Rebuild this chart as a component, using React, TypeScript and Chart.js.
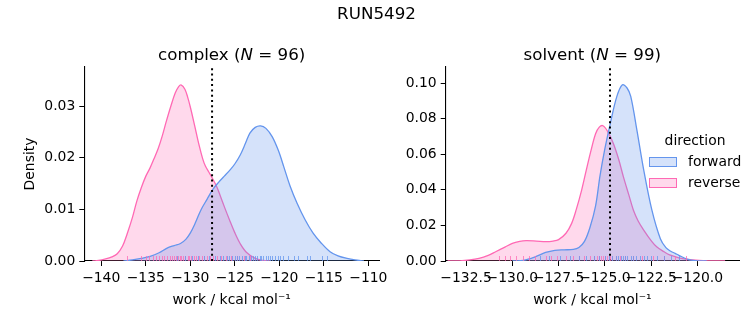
import React, { useEffect, useRef } from "react";
import { Chart, registerables } from "chart.js";

Chart.register(...registerables);

// ---------- DATA ----------
// complex panel, KDE curves
const complexForwardX = [-137.5, -136.5, -135.5, -134.5, -133.5, -132.6, -131.8, -131.1, -130.5, -130.0, -129.4, -128.8, -128.1, -127.5, -126.8, -126.2, -125.5, -125.0, -124.4, -123.8, -123.3, -122.7, -122.1, -121.5, -120.8, -120.1, -119.5, -118.8, -118.0, -117.1, -116.2, -115.3, -114.3, -113.4, -112.4, -111.5, -110.5];
const complexForwardY = [0, 0.0002, 0.0005, 0.0009, 0.0016, 0.0025, 0.003, 0.0034, 0.0042, 0.0054, 0.0075, 0.0099, 0.012, 0.0138, 0.0153, 0.0164, 0.0177, 0.0188, 0.0205, 0.0228, 0.0248, 0.0259, 0.0262, 0.0257, 0.0241, 0.0214, 0.0183, 0.0146, 0.0112, 0.008, 0.0054, 0.0035, 0.0018, 0.001, 0.0005, 0.0002, 0];
const complexReverseX = [-141, -140.3, -139.5, -138.8, -138.2, -137.6, -137.1, -136.5, -136.0, -135.5, -135.0, -134.5, -134.1, -133.6, -133.15, -132.7, -132.2, -131.7, -131.3, -131.0, -130.6, -130.3, -130.0, -129.5, -129.0, -128.6, -128.3, -127.9, -127.5, -127.0, -126.6, -126.1, -125.6, -125.0, -124.4, -123.7, -122.7, -121.8, -121];
const complexReverseY = [0, 0.0001, 0.0004, 0.0008, 0.0014, 0.0029, 0.0052, 0.0084, 0.0116, 0.0142, 0.0164, 0.0181, 0.0197, 0.0218, 0.0242, 0.027, 0.0299, 0.0325, 0.0338, 0.0341, 0.0333, 0.0318, 0.0299, 0.0262, 0.0224, 0.0198, 0.0184, 0.0172, 0.016, 0.0143, 0.0125, 0.0102, 0.008, 0.0055, 0.0034, 0.0017, 0.0005, 0.0001, 0];

// solvent panel, KDE curves
const solventForwardX = [-130, -129.4, -128.8, -128.2, -127.7, -127.2, -126.7, -126.4, -126.1, -125.8, -125.5, -125.26, -125.0, -124.7, -124.35, -124.05, -123.8, -123.6, -123.27, -122.9, -122.46, -122.0, -121.7, -121.46, -121.2, -121.0, -120.57, -120.0, -119.5];
const solventForwardY = [0, 0.0004, 0.0022, 0.0048, 0.006, 0.0063, 0.0065, 0.0076, 0.011, 0.019, 0.031, 0.048, 0.063, 0.0775, 0.0925, 0.099, 0.0972, 0.0925, 0.0737, 0.0512, 0.0287, 0.0125, 0.0075, 0.0056, 0.0043, 0.0032, 0.0011, 0.0001, 0];
const solventReverseX = [-133.5, -132.86, -132.3, -131.8, -131.3, -130.9, -130.4, -130.0, -129.6, -129.26, -128.7, -128.2, -127.8, -127.5, -127.1, -126.8, -126.55, -126.25, -126.0, -125.75, -125.5, -125.3, -125.1, -124.85, -124.54, -124.25, -124.0, -123.7, -123.46, -123.2, -122.9, -122.5, -122.2, -121.8, -121.5, -121.0, -120.6, -119.9, -119.3, -118.5];
const solventReverseY = [0, 0.0001, 0.0006, 0.0015, 0.0032, 0.0052, 0.0078, 0.0099, 0.011, 0.0114, 0.0112, 0.0109, 0.0112, 0.012, 0.0156, 0.021, 0.0287, 0.04, 0.0512, 0.062, 0.0715, 0.0752, 0.076, 0.0728, 0.066, 0.057, 0.0474, 0.037, 0.0287, 0.0225, 0.0174, 0.0115, 0.008, 0.0052, 0.0034, 0.0018, 0.001, 0.0003, 0.0001, 0];

// rug (individual work values)
const complexRugForward = [-131.5, -130.6, -129.8, -129.1, -128.4, -127.9, -127.2, -126.7, -126.3, -125.9, -125.6, -125.3, -125.0, -124.7, -124.5, -124.2, -123.9, -123.7, -123.4, -123.2, -122.9, -122.7, -122.5, -122.2, -122.0, -121.8, -121.5, -121.3, -121.0, -120.8, -120.5, -120.2, -119.9, -119.6, -119.0, -118.4, -117.9, -116.9, -116.5, -115.2, -114.6];
const complexRugReverse = [-137.1, -135.5, -135.0, -134.6, -134.2, -133.9, -133.5, -133.2, -132.9, -132.6, -132.3, -132.1, -131.8, -131.6, -131.4, -131.2, -131.0, -130.8, -130.6, -130.3, -130.1, -129.9, -129.6, -129.3, -129.0, -128.7, -128.4, -128.1, -127.8, -127.4, -127.0, -126.5, -126.0, -125.4, -124.8, -124.0, -123.3];
const solventRugForward = [-128.5, -128.0, -127.4, -126.9, -126.4, -126.0, -125.6, -125.3, -125.0, -124.8, -124.6, -124.4, -124.3, -124.1, -124.0, -123.9, -123.8, -123.6, -123.5, -123.3, -123.1, -122.9, -122.7, -122.5, -122.2, -121.8, -121.4, -121.0];
const solventRugReverse = [-130.7, -130.4, -130.1, -129.8, -129.4, -129.1, -128.8, -128.2, -127.9, -127.6, -127.1, -126.7, -126.4, -126.1, -125.8, -125.6, -125.4, -125.3, -125.2, -125.1, -125.0, -124.9, -124.8, -124.7, -124.6, -124.4, -124.2, -123.9, -123.5, -123.0, -122.4, -121.8, -121.2, -120.6];

// reference lines (dotted)
const complexMarker = -127.55;
const solventMarker = -124.72;

// axis ticks and limits
const complexXTicks = [-140, -135, -130, -125, -120, -115, -110];
const complexYTicks = [0, 0.01, 0.02, 0.03];
const solventXTicks = [-132.5, -130, -127.5, -125, -122.5, -120];
const solventYTicks = [0, 0.02, 0.04, 0.06, 0.08, 0.1];
const complexXRange = [-141.9, -108.8];
const complexYMax = 0.0376;
const solventXRange = [-133.6, -117.75];
const solventYMax = 0.109;

const seriesNames = ["forward", "reverse"];
const suptitle = "RUN5492";
const xLabel = "work / kcal mol\u207B\u00B9";

// ---------- STYLE ----------
const BLUE = "rgb(100,149,237)";
const BLUE_FILL = "rgba(100,149,237,0.27)";
const BLUE_RUG = "rgba(100,149,237,0.75)";
const PINK = "rgb(255,105,180)";
const PINK_FILL = "rgba(255,105,180,0.25)";
const PINK_RUG = "rgba(255,105,180,0.75)";
const FONT = "'DejaVu Sans', sans-serif";

const minus = (s: string) => s.replace("-", "\u2212");

const rugPlugin = {
  id: "rug",
  afterDatasetsDraw(chart: any, _args: any, opts: any) {
    const { ctx, chartArea, scales } = chart;
    const h = 5;
    (opts.rugs || []).forEach((r: any) => {
      ctx.save();
      ctx.strokeStyle = r.color;
      ctx.lineWidth = 1;
      r.values.forEach((v: number) => {
        const x = Math.round(scales.x.getPixelForValue(v)) + 0.5;
        ctx.beginPath();
        ctx.moveTo(x, chartArea.bottom);
        ctx.lineTo(x, chartArea.bottom - h);
        ctx.stroke();
      });
      ctx.restore();
    });
  },
};

function zip(xs: number[], ys: number[]) {
  return xs.map((x, i) => ({ x, y: ys[i] }));
}

type Panel = {
  fx: number[]; fy: number[]; rx: number[]; ry: number[];
  rugF: number[]; rugR: number[]; marker: number;
  xTicks: number[]; yTicks: number[]; xRange: number[]; yMax: number;
  xDigits: number; padLeft: number; padRight: number; yTitle: string;
};

function makeChart(canvas: HTMLCanvasElement, p: Panel) {
  return new Chart(canvas, {
    type: "line",
    data: {
      datasets: [
        {
          data: [{ x: p.marker, y: 0 }, { x: p.marker, y: p.yMax }],
          borderColor: "#000",
          borderWidth: 2,
          borderDash: [2, 3.3],
          pointRadius: 0,
          fill: false,
          tension: 0,
        },
        {
          data: zip(p.fx, p.fy),
          borderColor: BLUE,
          backgroundColor: BLUE_FILL,
          borderWidth: 1.3,
          pointRadius: 0,
          fill: "origin",
          tension: 0.35,
        },
        {
          data: zip(p.rx, p.ry),
          borderColor: PINK,
          backgroundColor: PINK_FILL,
          borderWidth: 1.3,
          pointRadius: 0,
          fill: "origin",
          tension: 0.35,
        },
      ] as any,
    },
    options: {
      responsive: false,
      animation: false,
      devicePixelRatio: 1,
      events: [],
      layout: { padding: { left: p.padLeft, right: p.padRight, top: 67, bottom: 16 } },
      plugins: {
        legend: { display: false },
        tooltip: { enabled: false },
        title: { display: false },
        rug: {
          rugs: [
            { values: p.rugR, color: PINK_RUG },
            { values: p.rugF, color: BLUE_RUG },
          ],
        },
      } as any,
      scales: {
        x: {
          type: "linear",
          min: p.xRange[0],
          max: p.xRange[1],
          afterBuildTicks: (s: any) => { s.ticks = p.xTicks.map((v) => ({ value: v })); },
          afterFit: (s: any) => { s.height = 48; },
          grid: { display: true, drawOnChartArea: false, drawTicks: true, tickLength: 5, color: "#000", lineWidth: 1 },
          border: { display: true, color: "#000", width: 1.1 },
          ticks: {
            autoSkip: false, maxRotation: 0, minRotation: 0, padding: 4, color: "#000",
            font: { family: FONT, size: 13.9 },
            callback: (v: any) => minus(Number(v).toFixed(p.xDigits)),
          },
          title: { display: true, text: xLabel, color: "#000", padding: 0, font: { family: FONT, size: 13.9 } },
        },
        y: {
          type: "linear",
          min: 0,
          max: p.yMax,
          afterBuildTicks: (s: any) => { s.ticks = p.yTicks.map((v) => ({ value: v })); },
          afterFit: (s: any) => { s.width = 62; },
          grid: { display: true, drawOnChartArea: false, drawTicks: true, tickLength: 5, color: "#000", lineWidth: 1 },
          border: { display: true, color: "#000", width: 1.1 },
          ticks: {
            padding: 4, color: "#000",
            font: { family: FONT, size: 13.9 },
            callback: (v: any) => Number(v).toFixed(2),
          },
          title: { display: p.yTitle !== "", text: p.yTitle, color: "#000", padding: 0, font: { family: FONT, size: 13.9 } },
        },
      },
    } as any,
    plugins: [rugPlugin],
  });
}

const textBase: React.CSSProperties = {
  position: "absolute",
  fontFamily: FONT,
  color: "#000",
  whiteSpace: "nowrap",
  lineHeight: 1,
};

export default function App() {
  const c1 = useRef<HTMLCanvasElement>(null);
  const c2 = useRef<HTMLCanvasElement>(null);

  useEffect(() => {
    const a = makeChart(c1.current!, {
      fx: complexForwardX, fy: complexForwardY, rx: complexReverseX, ry: complexReverseY,
      rugF: complexRugForward, rugR: complexRugReverse, marker: complexMarker,
      xTicks: complexXTicks, yTicks: complexYTicks, xRange: complexXRange, yMax: complexYMax,
      xDigits: 0, padLeft: 22.3, padRight: 374, yTitle: "Density",
    });
    const b = makeChart(c2.current!, {
      fx: solventForwardX, fy: solventForwardY, rx: solventReverseX, ry: solventReverseY,
      rugF: solventRugForward, rugR: solventRugReverse, marker: solventMarker,
      xTicks: solventXTicks, yTicks: solventYTicks, xRange: solventXRange, yMax: solventYMax,
      xDigits: 1, padLeft: 383.7, padRight: 14, yTitle: "",
    });
    return () => { a.destroy(); b.destroy(); };
  }, []);

  const center = (x: number, y: number): React.CSSProperties => ({
    left: x, top: y, transform: "translate(-50%, -50%)",
  });

  return (
    <div style={{ position: "absolute", left: 0, top: 0, width: 753, height: 325, background: "#fff", overflow: "hidden" }}>
      <canvas ref={c1} width={753} height={325} style={{ position: "absolute", left: 0, top: 0 }} />
      <canvas ref={c2} width={753} height={325} style={{ position: "absolute", left: 0, top: 0 }} />
      <div style={{ ...textBase, ...center(376.5, 13), fontSize: 16.7 }}>{suptitle}</div>
      <div style={{ ...textBase, ...center(231.7, 54), fontSize: 16.7 }}>
        complex (<i>N</i> = 96)
      </div>
      <div style={{ ...textBase, ...center(592.3, 54), fontSize: 16.7 }}>
        solvent (<i>N</i> = 99)
      </div>
      <div style={{ ...textBase, ...center(695, 141), fontSize: 13.9 }}>direction</div>
      <div style={{ position: "absolute", left: 649.3, top: 157.3, width: 27.4, height: 10, boxSizing: "border-box", border: `1.3px solid ${BLUE}`, background: BLUE_FILL }} />
      <div style={{ position: "absolute", left: 649.3, top: 178.3, width: 27.4, height: 10, boxSizing: "border-box", border: `1.3px solid ${PINK}`, background: PINK_FILL }} />
      <div style={{ ...textBase, left: 688, top: 162, transform: "translateY(-50%)", fontSize: 13.9 }}>{seriesNames[0]}</div>
      <div style={{ ...textBase, left: 688, top: 183, transform: "translateY(-50%)", fontSize: 13.9 }}>{seriesNames[1]}</div>
    </div>
  );
}
